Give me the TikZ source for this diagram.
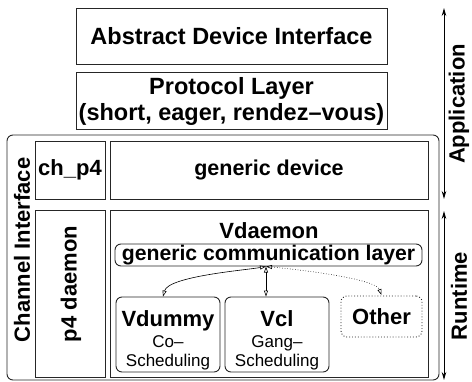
\documentclass[tikz,border=0pt]{standalone}
\usepackage{fontspec}
\setmainfont{Liberation Sans}
\usetikzlibrary{arrows.meta,positioning}

\newcommand\subtxt{\mdseries\fontsize{17}{17}\selectfont}

\begin{document}
\begin{tikzpicture}[x=1pt,y=-1pt,>={Stealth[length=8pt,width=4.5pt]},
  layer/.style={draw=black!85,line width=0.9pt,inner sep=0pt,align=center,
    font=\fontsize{22}{24}\selectfont\bfseries},
  toplayer/.style={layer,font=\fontsize{23.5}{26}\selectfont\bfseries},
  module/.style={layer,rounded corners=6pt},
  modtext/.style={inner sep=0pt,align=center,font=\fontsize{22}{24}\selectfont\bfseries},
  side/.style={rotate=90,inner sep=0pt,font=\fontsize{22}{24}\selectfont\bfseries},
  link/.style={line width=0.6pt,{Triangle[open,length=6pt,width=4pt]}-{Triangle[open,length=6pt,width=4pt]}}]
  \useasboundingbox (0,0) rectangle (472,381);

  \node [toplayer, minimum width=311pt, minimum height=56pt] (adi) at (231.5,36) {Abstract Device Interface};
  \node [toplayer, minimum width=311pt, minimum height=57pt, below=8pt of adi] (proto) {Protocol Layer\\(short, eager, rendez–vous)};

  \node [module, minimum width=432pt, minimum height=245pt] (chif) at (223,257.5) {};
  \node [side] (chiflabel) at (22,250) {Channel Interface};

  \node [layer, minimum width=70pt, minimum height=58pt] (chp4) at (70,170) {ch\_p4};
  \node [layer, minimum width=318pt, minimum height=58pt, font=\fontsize{21.5}{24}\selectfont\bfseries] (gendev) at (269,170) {generic device};
  \node [layer, minimum width=70pt, minimum height=167pt] (p4d) at (70,293.5) {};
  \node [side] (p4dlabel) at (71,284) {p4 daemon};
  \node [layer, minimum width=318pt, minimum height=167pt] (vdaemon) at (269,293.5) {};
  \node [modtext] (vdname) at (269,231) {Vdaemon};

  \node [module, minimum width=307pt, minimum height=22pt, font=\fontsize{21.2}{24}\selectfont\bfseries] (gcl) at (268.5,255) {generic communication layer};
  \node [module, minimum width=104pt, minimum height=75pt] (vdummy) at (168,334.5) {};
  \node [modtext] (vdummytxt) at (168,340) {Vdummy\\[-3pt]{\subtxt Co–}\\[-4.8pt]{\subtxt Scheduling}};
  \node [module, minimum width=104pt, minimum height=75pt] (vcl) at (277,334.5) {};
  \node [modtext] (vcltxt) at (277,340) {Vcl\\[-3pt]{\subtxt Gang–}\\[-4.8pt]{\subtxt Scheduling}};
  \node [module, dotted, minimum width=81pt, minimum height=41pt] (other) at (381.5,316.5) {Other};

  \coordinate (hub) at (266,266.5);
  \draw [link] (hub) to[out=190,in=75,looseness=0.5] ([xshift=-5pt]vdummy.north);
  \draw [link] (hub) -- (hub |- vcl.north);
  \draw [link, dotted] (hub) to[out=-5,in=110,looseness=0.4] ([yshift=0.5pt]other.north);

  \coordinate (apptop) at (444,8);
  \coordinate (appbot) at (444,199);
  \coordinate (runtop) at (444,211);
  \coordinate (runbot) at (444,380);
  \draw [<->, line width=0.9pt] (apptop) -- (appbot);
  \draw [<->, line width=0.9pt] (runtop) -- (runbot);
  \node [side] (applabel) at (459,104) {Application};
  \node [side] (runlabel) at (459,296) {Runtime};
\end{tikzpicture}
\end{document}
